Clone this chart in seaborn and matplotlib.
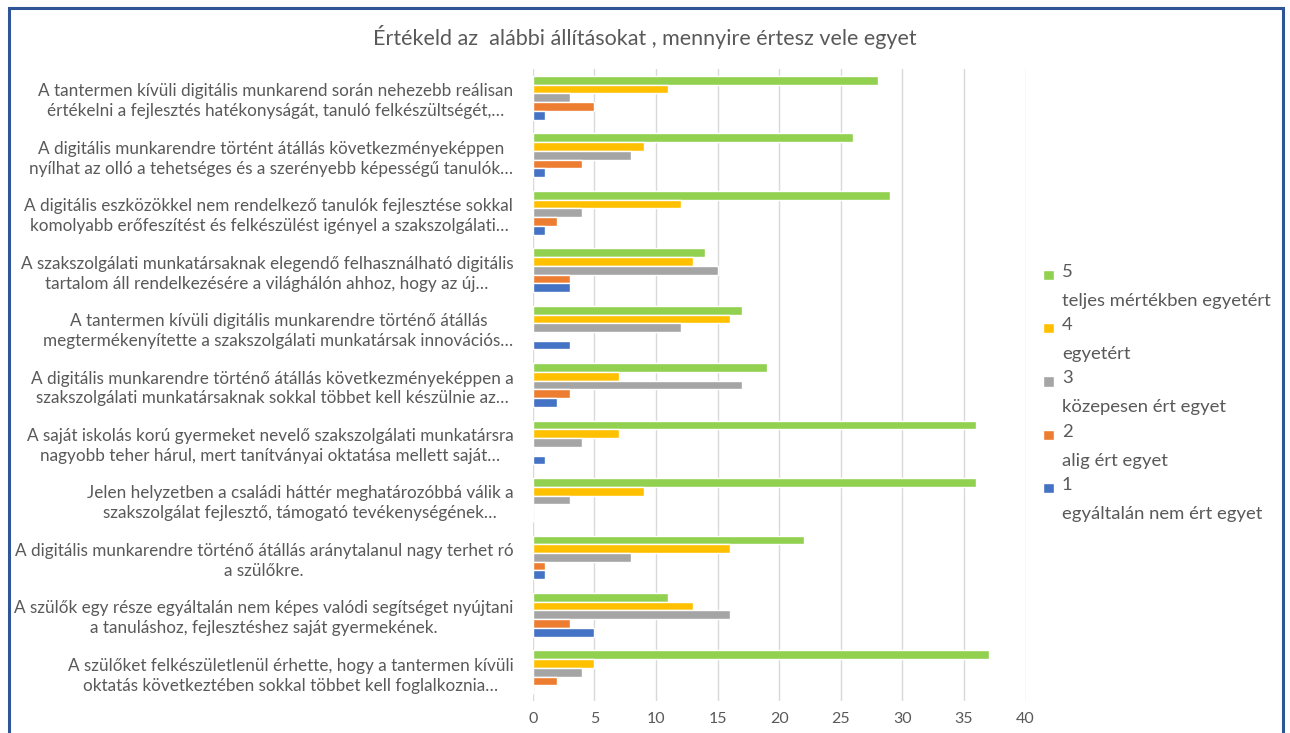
import pandas as pd
import matplotlib
matplotlib.use("Agg")
import matplotlib.pyplot as plt
from matplotlib.patches import Rectangle
from matplotlib.legend_handler import HandlerPatch
import seaborn as sns

# Statements (top to bottom, as shown in the chart)
statements = [
    "A tantermen kívüli digitális munkarend során nehezebb reálisan\nértékelni a fejlesztés hatékonyságát, tanuló felkészültségét,…",
    "A digitális munkarendre történt átállás következményeképpen\nnyílhat az olló a tehetséges és a szerényebb képességű tanulók…",
    "A digitális eszközökkel nem rendelkező tanulók fejlesztése sokkal\nkomolyabb erőfeszítést és felkészülést igényel a szakszolgálati…",
    "A szakszolgálati munkatársaknak elegendő felhasználható digitális\ntartalom áll rendelkezésére a világhálón ahhoz, hogy az új…",
    "A tantermen kívüli digitális munkarendre történő átállás\nmegtermékenyítette a szakszolgálati munkatársak innovációs…",
    "A digitális munkarendre történő átállás következményeképpen a\nszakszolgálati munkatársaknak sokkal többet kell készülnie az…",
    "A saját iskolás korú gyermeket nevelő szakszolgálati munkatársra\nnagyobb teher hárul, mert tanítványai oktatása mellett saját…",
    "Jelen helyzetben a családi háttér meghatározóbbá válik a\nszakszolgálat fejlesztő, támogató tevékenységének…",
    "A digitális munkarendre történő átállás aránytalanul nagy terhet ró\na szülőkre.",
    "A szülők egy része egyáltalán nem képes valódi segítséget nyújtani\na tanuláshoz, fejlesztéshez saját gyermekének.",
    "A szülőket felkészületlenül érhette, hogy a tantermen kívüli\noktatás következtében sokkal többet kell foglalkoznia…",
]

# Answer counts per rating
r5 = [28, 26, 29, 14, 17, 19, 36, 36, 22, 11, 37]
r4 = [11, 9, 12, 13, 16, 7, 7, 9, 16, 13, 5]
r3 = [3, 8, 4, 15, 12, 17, 4, 3, 8, 16, 4]
r2 = [5, 4, 2, 3, 0, 3, 0, 0, 1, 3, 2]
r1 = [1, 1, 1, 3, 3, 2, 1, 0, 1, 5, 0]

levels = [
    "5\nteljes mértékben egyetért",
    "4\negyetért",
    "3\nközepesen ért egyet",
    "2\nalig ért egyet",
    "1\negyáltalán nem ért egyet",
]
colors = ["#92D050", "#FFC000", "#A5A5A5", "#ED7D31", "#4472C4"]

rows = []
for lvl, vals in zip(levels, [r5, r4, r3, r2, r1]):
    for s, v in zip(statements, vals):
        rows.append({"statement": s, "rating": lvl, "count": v})
df = pd.DataFrame(rows)

sns.set_style("white")
plt.rcParams["font.family"] = ["Lato", "DejaVu Sans"]
txt = "#595959"

fig = plt.figure(figsize=(12.9, 7.33), dpi=100)
ax = fig.add_axes([0.413, 0.0437, 0.382, 0.862])

sns.barplot(data=df, y="statement", x="count", hue="rating",
            order=statements, hue_order=levels, palette=colors,
            width=0.76, orient="h", ax=ax, saturation=1, legend=True)

ax.set_xlim(0, 40)
ax.set_xticks(range(0, 41, 5))
ax.set_xlabel("")
ax.set_ylabel("")
ax.grid(axis="x", color="#D9D9D9", linewidth=1)
ax.set_axisbelow(True)
for sp in ax.spines.values():
    sp.set_visible(False)
ax.tick_params(axis="x", colors=txt, labelsize=11.5, length=0, pad=8)
ax.tick_params(axis="y", colors=txt, labelsize=12.3, length=0, pad=14)
for lab in ax.get_yticklabels():
    lab.set_multialignment("center")
    lab.set_linespacing(1.3)


# small square placed beside the first line of the two-line legend label
def top_square(legend, orig_handle, xdescent, ydescent, width, height, fontsize):
    sq = 0.55 * fontsize
    return Rectangle((-xdescent, -ydescent + height - sq - 0.15 * fontsize), sq, sq)


handles, labels = ax.get_legend_handles_labels()
ax.legend_.remove()
leg = fig.legend(handles, labels, loc="center left", bbox_to_anchor=(0.796, 0.464),
                 frameon=False, fontsize=13.3, labelcolor=txt, handlelength=0.55,
                 handleheight=3.0, handletextpad=0.45, labelspacing=0.45,
                 alignment="left",
                 handler_map={h: HandlerPatch(patch_func=top_square) for h in handles})
for t in leg.get_texts():
    t.set_linespacing(2.0)

fig.text(0.5, 0.95, "Értékeld az  alábbi állításokat , mennyire értesz vele egyet",
         ha="center", va="center", fontsize=15.5, color=txt)

W, H = 1290, 733
fig.patches.append(Rectangle((9 / W, -0.05), (1283 - 9) / W, 1.05 - 8 / H,
                             transform=fig.transFigure, fill=False,
                             edgecolor="#2F5597", linewidth=2.2))

fig.savefig("out.png", dpi=100)
